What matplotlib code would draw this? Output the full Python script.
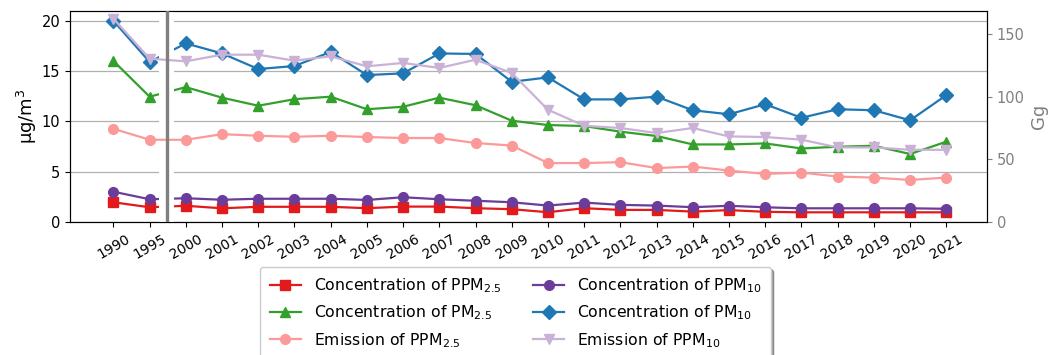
import numpy as np
import matplotlib.pyplot as plt

years = ['1990', '1995'] + [str(y) for y in range(2000, 2022)]

# concentrations, µg/m3 (left axis)
conc_ppm25 = [1.95, 1.45, 1.6, 1.35, 1.5, 1.5, 1.5, 1.36, 1.52, 1.52, 1.36, 1.26,
              0.96, 1.36, 1.19, 1.19, 1.02, 1.17, 1.0, 0.95, 0.95, 0.95, 0.95, 0.95]
conc_pm25 = [16.0, 12.45, 13.4, 12.35, 11.55, 12.2, 12.45, 11.2, 11.45, 12.35, 11.6, 10.06,
             9.63, 9.53, 8.97, 8.54, 7.7, 7.7, 7.8, 7.3, 7.47, 7.57, 6.75, 7.97]
conc_ppm10 = [3.0, 2.25, 2.35, 2.2, 2.3, 2.3, 2.3, 2.18, 2.45, 2.25, 2.1, 1.95,
              1.62, 1.92, 1.69, 1.62, 1.46, 1.6, 1.45, 1.35, 1.35, 1.35, 1.35, 1.3]
conc_pm10 = [20.0, 15.9, 17.75, 16.75, 15.2, 15.5, 16.9, 14.6, 14.77, 16.75, 16.7, 13.93,
             14.37, 12.18, 12.18, 12.45, 11.1, 10.7, 11.7, 10.35, 11.2, 11.1, 10.1, 12.6]

# emissions, Gg (right axis)
emis_ppm25 = [74.4, 65.6, 65.6, 70.1, 68.8, 68.0, 68.8, 67.8, 67.0, 67.0, 63.0, 61.0,
              47.0, 47.0, 47.7, 43.0, 44.2, 41.0, 38.3, 39.4, 36.2, 35.4, 33.5, 35.4]
emis_ppm10 = [162.4, 130.4, 128.3, 133.6, 133.6, 128.8, 132.3, 124.3, 127.0, 123.0, 129.6, 119.0,
              89.6, 76.8, 75.0, 71.0, 75.0, 68.3, 67.8, 65.7, 59.5, 59.5, 57.6, 57.6]

x = np.arange(len(years))

fig, ax = plt.subplots(figsize=(10.6, 3.55), dpi=100)
fig.subplots_adjust(left=0.066, right=0.931, top=0.969, bottom=0.375)
ax2 = ax.twinx()

lw = 1.6
ms = 7
l1, = ax.plot(x, conc_ppm25, marker='s', color='#e31a1c', lw=lw, ms=ms,
              label='Concentration of PPM$_{2.5}$')
l2, = ax.plot(x, conc_pm25, marker='^', color='#33a02c', lw=lw, ms=ms,
              label='Concentration of PM$_{2.5}$')
l4, = ax.plot(x, conc_ppm10, marker='o', color='#6a3d9a', lw=lw, ms=ms,
              label='Concentration of PPM$_{10}$')
l5, = ax.plot(x, conc_pm10, marker='D', color='#1f78b4', lw=lw, ms=ms,
              label='Concentration of PM$_{10}$')
l3, = ax2.plot(x, emis_ppm25, marker='o', color='#fb9a99', lw=lw, ms=ms,
               label='Emission of PPM$_{2.5}$')
l6, = ax2.plot(x, emis_ppm10, marker='v', color='#cab2d6', lw=lw, ms=ms,
               label='Emission of PPM$_{10}$')

# break between 1995 and 2000
ax.axvspan(1.27, 1.67, color='white', zorder=3, lw=0)
ax2.axvline(1.47, color='#808080', lw=2.4, zorder=5)

ax.set_xlim(-1.2, 24.12)
ax.set_ylim(0, 20.97)
ax2.set_ylim(0, 168.5)
ax.set_yticks([0, 5, 10, 15, 20])
ax2.set_yticks([0, 50, 100, 150])
ax.yaxis.grid(True, color='#b0b0b0', lw=0.9)
ax.set_axisbelow(True)

ax.set_xticks(x)
ax.set_xticklabels(years, rotation=30, fontsize=10)
ax.tick_params(axis='y', labelsize=10.5)
ax.set_ylabel('µg/m$^3$', fontsize=13, labelpad=2)

gray = '#808080'
ax2.tick_params(axis='y', colors=gray, labelsize=10.5)
ax2.set_ylabel('Gg', color=gray, fontsize=13)

ax.legend(handles=[l1, l2, l3, l4, l5, l6], ncol=2, loc='upper center',
          bbox_to_anchor=(0.486, -0.213), borderaxespad=0, shadow=True,
          fontsize=11.3, labelspacing=0.55, columnspacing=2.0, borderpad=0.6)

fig.savefig('out.png', dpi=100)
